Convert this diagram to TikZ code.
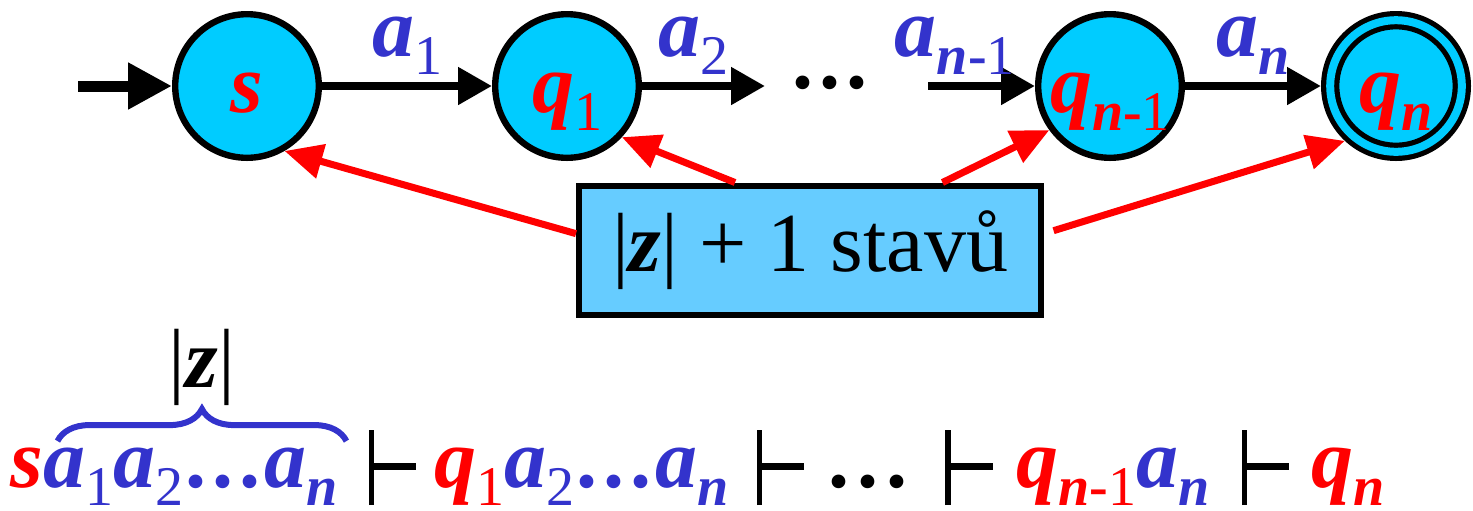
\documentclass[tikz,border=0pt]{standalone}
\usepackage{fontspec}
\setmainfont{Liberation Serif}
\usetikzlibrary{
  arrows.meta,
  positioning,
  decorations.pathreplacing
}
\definecolor{StateCyan}{RGB}{0, 204, 255}
\definecolor{BoxCyan}{RGB}{102, 204, 255}
\definecolor{SymBlue}{RGB}{51, 51, 204}
\definecolor{StateRed}{RGB}{255, 0, 0}

\newcommand{\bi}[1]{\textbf{\textit{#1}}}
\newcommand{\lowsub}[1]{\raisebox{-9pt}{\fontsize{28}{28}\selectfont #1}}
\newcommand{\nmone}{\bi{n}\textbf{-}1}
\newcommand{\yld}{\rule[-9pt]{2.8pt}{37.5pt}\rule[8.3pt]{21pt}{3.5pt}}
\newcommand{\blueA}[1]{\textcolor{SymBlue}{\bi{a}\lowsub{#1}}}
\newcommand{\redQ}[1]{\textcolor{StateRed}{\bi{q}\lowsub{#1}}}
\newcommand{\wdots}[1]{\kern1pt\textbf{.\kern#1.\kern#1.}\kern2pt}
\newcommand{\bluedots}{\textcolor{SymBlue}{\wdots{3pt}}}

\tikzset{
  statenode/.style={circle, draw=black, line width=3.2pt, fill=StateCyan,
    minimum size=71.8pt, inner sep=0pt, text height=26pt, text depth=0pt,
    text=StateRed},
  finalstate/.style={statenode, double=StateCyan, double distance=4pt,
    line width=2.6pt, minimum size=65.8pt, outer sep=4.6pt},
  trans/.style={-{Triangle[length=17pt, width=18pt]}, line width=4pt},
  pointer/.style={-{Triangle[length=19pt, width=17pt]}, line width=3.5pt, draw=StateRed},
  elabel/.style={anchor=base, yshift=15pt, text=SymBlue, inner sep=0pt},
  countbox/.style={rectangle, draw=black, line width=3pt, fill=BoxCyan,
    minimum width=231pt, minimum height=64.5pt},
  wordpart/.style={anchor=base west, inner sep=0pt}
}

\begin{document}
\begin{tikzpicture}[x=0.5pt, y=-0.5pt, font=\fontsize{42}{48}\selectfont]
  \useasboundingbox (0,0) rectangle (1473,510);

  % states of the automaton
  \node[statenode] (s) at (247,86) {\bi{s}};
  \node[statenode] (q1) at (567,86) {\bi{q}\lowsub{1}};
  \node[statenode] (qm) at (1110,86) {\bi{q}\lowsub{\nmone}};
  \node[finalstate] (qn) at (1396,86) {\bi{q}\lowsub{\bi{n}}};
  \node[anchor=base, inner sep=0pt] (dots) at (830,88) {\textbf{.\kern3pt.\kern3pt.}};

  \coordinate (init) at (78,86);
  \coordinate (cut) at (765,86);
  \coordinate (resume) at (928,86);

  % transitions
  \draw[-{Triangle[length=22pt, width=22pt]}, line width=5.5pt] (init) -- (s);
  \draw[trans] (s) -- node[elabel] {\bi{a}\lowsub{1}} (q1);
  \draw[trans] (q1) -- node[elabel, pos=0.42] {\bi{a}\lowsub{2}} (cut);
  \draw[trans] (resume) -- node[elabel, pos=0.25] {\bi{a}\lowsub{\nmone}} (qm);
  \draw[trans] (qm) -- node[elabel] {\bi{a}\lowsub{\bi{n}}} (qn);

  % number of states
  \node[countbox] (count) at (810,250) {|\bi{z}| + 1 stavů};
  \draw[pointer] (count.176) -- (s.-60);
  \draw[pointer] (count.138) -- (q1.-43);
  \draw[pointer] (count.27) -- (qm.-144);
  \draw[pointer, shorten <=5pt] (count.4) -- (qn.-133);

  % computation
  \node[wordpart, text=StateRed] (w0) at (10,487) {\bi{s}};
  \node[wordpart, text=SymBlue] (w1) at (w0.base east)
    {\bi{a}\lowsub{1}\bi{a}\lowsub{2}\wdots{3pt}\bi{a}\lowsub{\bi{n}}};
  \node[wordpart] (w2) at (w1.base east)
    {\hspace{15pt}\yld\hspace{9pt}\redQ{1}\blueA{2}\bluedots\blueA{\bi{n}}%
     \hspace{14pt}\yld\hspace{11pt}\wdots{4pt}%
     \hspace{17pt}\yld\hspace{12pt}\redQ{\nmone}\blueA{\bi{n}}%
     \hspace{16pt}\yld\hspace{11pt}\redQ{\bi{n}}};
  \draw[decorate, decoration={brace, amplitude=16pt}, draw=SymBlue, line width=3pt]
    ([xshift=7pt, yshift=3pt]w1.north west) -- ([xshift=4pt, yshift=3pt]w1.north east)
    node[midway, above=16pt, inner sep=0pt] {|\bi{z}|};
\end{tikzpicture}
\end{document}
